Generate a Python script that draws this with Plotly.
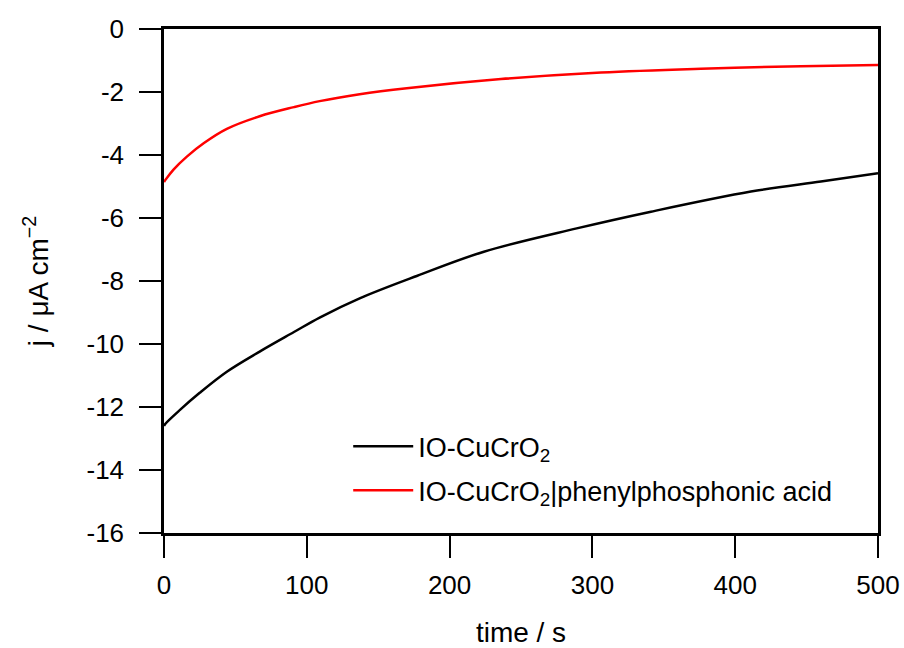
import plotly.graph_objects as go

# Data
t_black = [0, 1, 11, 25, 44, 67, 91, 109, 137, 177, 224, 289, 341, 411, 460, 500]
j_black = [-12.6, -12.53, -12.10, -11.55, -10.88, -10.24, -9.62, -9.16, -8.55,
           -7.84, -7.07, -6.33, -5.80, -5.16, -4.84, -4.58]

t_red = [0, 1, 6.5, 16, 28, 44, 67, 91, 109, 137, 170, 236, 306, 376, 446, 500]
j_red = [-4.86, -4.79, -4.47, -4.05, -3.62, -3.17, -2.77, -2.48, -2.29, -2.07,
         -1.88, -1.59, -1.38, -1.26, -1.18, -1.14]

names = ["IO-CuCrO<sub>2</sub>", "IO-CuCrO<sub>2</sub>|phenylphosphonic acid"]
colors = ["#000000", "#ff0000"]

x_ticks = [0, 100, 200, 300, 400, 500]
x_ticktext = ["0", "100", "200", "300", "400", "500"]
y_ticks = [0, -2, -4, -6, -8, -10, -12, -14, -16]
y_ticktext = ["0", "-2", "-4", "-6", "-8", "-10", "-12", "-14", "-16"]

fig = go.Figure()
fig.add_trace(go.Scatter(x=t_black, y=j_black, mode="lines", name=names[0],
                         legendgroup="a",
                         line=dict(color=colors[0], width=2.5, shape="spline", smoothing=1.0)))
fig.add_trace(go.Scatter(x=t_red, y=j_red, mode="lines", name=names[1],
                         legendgroup="b",
                         line=dict(color=colors[1], width=2.5, shape="spline", smoothing=1.0)))

fam = "Arial, Liberation Sans, sans-serif"
font = dict(family=fam, size=26, color="#000000")

fig.update_layout(
    width=904, height=648,
    margin=dict(l=164, r=26, t=29, b=115),
    paper_bgcolor="white", plot_bgcolor="white",
    font=font,
    showlegend=True,
    legend=dict(x=0.258, y=0.22, xanchor="left", yanchor="top",
                bgcolor="rgba(0,0,0,0)", borderwidth=0,
                font=dict(family=fam, size=27, color="#000"),
                traceorder="grouped", tracegroupgap=6, itemwidth=60),
    xaxis=dict(range=[0, 500], tickvals=x_ticks, ticktext=x_ticktext,
               ticks="outside", ticklen=22, automargin=False, ticklabelstandoff=5,
               tickwidth=2, tickcolor="#000", showline=True, linecolor="#000",
               linewidth=2.5, mirror=True, showgrid=False, zeroline=False,
               title=dict(text="time / s", standoff=35, font=dict(family=fam, size=28)),
               tickfont=font),
    yaxis=dict(range=[-16, 0], tickvals=y_ticks, ticktext=y_ticktext,
               ticks="outside", ticklen=22, automargin=False, ticklabelstandoff=10,
               tickwidth=2, tickcolor="#000", showline=True, linecolor="#000",
               linewidth=2.5, mirror=True, showgrid=False, zeroline=False,
               title=dict(text="j / \u03bcA cm<sup>\u22122</sup>", standoff=30,
                          font=dict(family=fam, size=28)),
               tickfont=font),
)

fig.write_html("out.html")
